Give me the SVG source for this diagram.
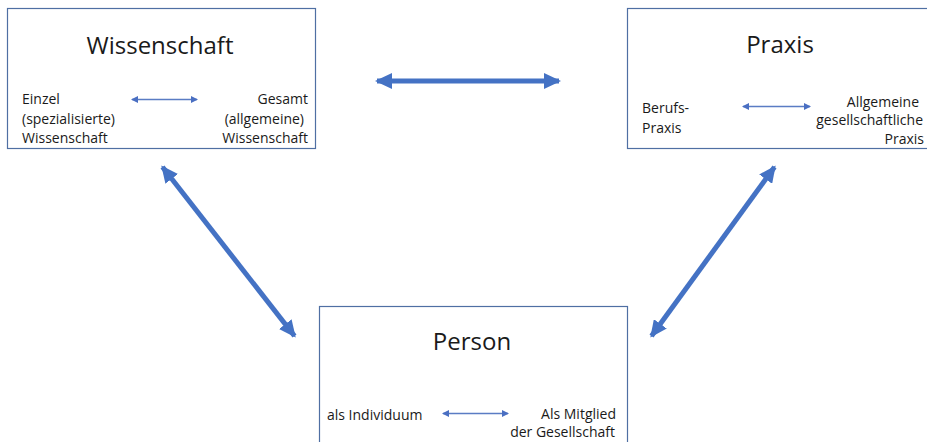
<svg xmlns="http://www.w3.org/2000/svg" width="927" height="442" viewBox="0 0 927 442">
<style>
.box{fill:#ffffff;stroke:#4f6fa3;stroke-width:1.2}
.title{font-family:"Open Sans","Liberation Sans",sans-serif;font-size:24px;fill:#1a1a1a;text-anchor:middle}
.lbl{font-family:"Open Sans","Liberation Sans",sans-serif;font-size:14px;fill:#1a1a1a}
.end{text-anchor:end}
.big{stroke:#4472c4;stroke-width:5;fill:none}
.small{stroke:#5a7cc4;stroke-width:1.4;fill:none}
</style>
<defs>
<marker id="bh" viewBox="0 0 17 16" refX="15" refY="8" markerWidth="17" markerHeight="16" markerUnits="userSpaceOnUse" orient="auto-start-reverse">
<path d="M0,0 L17,8 L0,16 Z" fill="#4472c4"/>
</marker>
<marker id="sh" viewBox="0 0 7 7" refX="6" refY="3.5" markerWidth="7" markerHeight="7" markerUnits="userSpaceOnUse" orient="auto-start-reverse">
<path d="M0,0 L7,3.5 L0,7 Z" fill="#4a6fc2"/>
</marker>
</defs>
<rect width="927" height="442" fill="#ffffff"/>
<g id="wissenschaft">
<rect class="box" x="7.5" y="8.5" width="308" height="140"/>
<text class="title" x="160" y="54">Wissenschaft</text>
<text class="lbl" x="22" y="104">Einzel</text>
<text class="lbl" x="22" y="124">(spezialisierte)</text>
<text class="lbl" x="22" y="143">Wissenschaft</text>
<text class="lbl end" x="308" y="104">Gesamt</text>
<text class="lbl end" x="304" y="124">(allgemeine)</text>
<text class="lbl end" x="308" y="143">Wissenschaft</text>
<line class="small" x1="132" y1="99.5" x2="197" y2="99.5" marker-start="url(#sh)" marker-end="url(#sh)"/>
</g>
<g id="praxis">
<rect class="box" x="627.5" y="8.5" width="310" height="140"/>
<text class="title" x="780" y="53">Praxis</text>
<text class="lbl" x="642" y="113">Berufs-</text>
<text class="lbl" x="642" y="133">Praxis</text>
<text class="lbl end" x="919" y="107">Allgemeine</text>
<text class="lbl end" x="923" y="125">gesellschaftliche</text>
<text class="lbl end" x="924" y="144">Praxis</text>
<line class="small" x1="743" y1="106.5" x2="810" y2="106.5" marker-start="url(#sh)" marker-end="url(#sh)"/>
</g>
<g id="person">
<rect class="box" x="319.5" y="306.5" width="308" height="140"/>
<text class="title" x="472" y="350">Person</text>
<text class="lbl" x="327" y="420">als Individuum</text>
<text class="lbl end" x="616" y="419">Als Mitglied</text>
<text class="lbl end" x="615" y="437">der Gesellschaft</text>
<line class="small" x1="443" y1="413.5" x2="508" y2="413.5" marker-start="url(#sh)" marker-end="url(#sh)"/>
</g>
<g id="connectors">
<line class="big" x1="377" y1="81" x2="559" y2="81" marker-start="url(#bh)" marker-end="url(#bh)"/>
<line class="big" x1="162.5" y1="167" x2="294.5" y2="336" marker-start="url(#bh)" marker-end="url(#bh)"/>
<line class="big" x1="774.5" y1="167" x2="651.5" y2="336" marker-start="url(#bh)" marker-end="url(#bh)"/>
</g>
</svg>
